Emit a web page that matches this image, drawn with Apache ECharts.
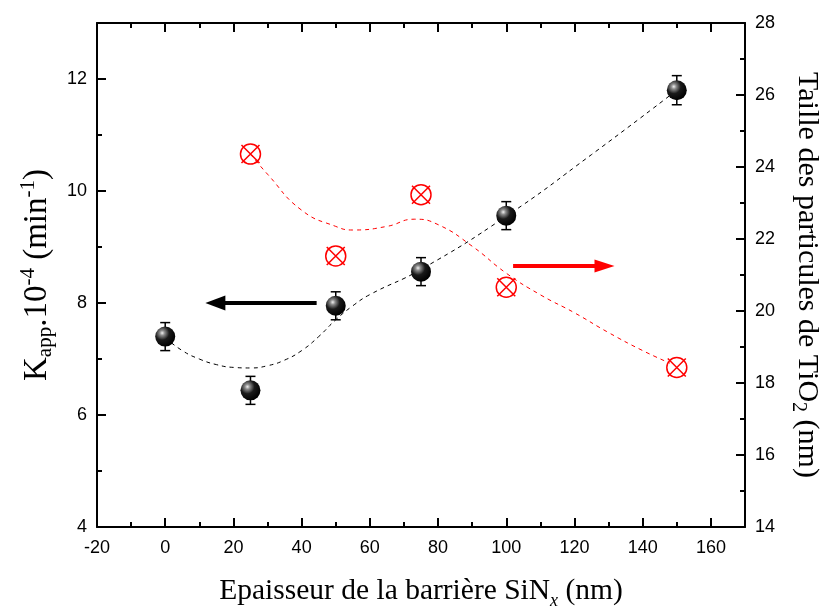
<!DOCTYPE html>
<html>
<head>
<meta charset="utf-8">
<script src="https://cdn.jsdelivr.net/npm/echarts@6/dist/echarts.min.js"></script>
<style>
  html, body { margin: 0; padding: 0; background: #fff; }
  #chart { width: 830px; height: 615px; }
</style>
</head>
<body>
<div id="chart"></div>
<script>
// measured points
var thickness = [0, 25, 50, 75, 100, 150];
var kapp = [7.40, 6.44, 7.95, 8.56, 9.56, 11.80];
var kappErr = [0.25, 0.25, 0.25, 0.25, 0.25, 0.26];
var sizeX = [25, 50, 75, 100, 150];
var particleSize = [24.36, 21.53, 23.23, 20.66, 18.43];

// dashed guide curves
var kappFitX = [0, 5, 10, 15, 20, 25, 30, 35, 40, 45, 50, 55, 60, 75, 100, 125, 150];
var kappFitY = [7.38, 7.15, 7.0, 6.9, 6.85, 6.84, 6.88, 6.98, 7.15, 7.4, 7.7, 7.95, 8.15, 8.6, 9.55, 10.65, 11.8];
var sizeFitX = [25, 30, 40, 50, 55, 65, 73, 80, 90, 100, 110, 120, 130, 140, 148];
var sizeFitY = [24.36, 23.8, 22.8, 22.35, 22.25, 22.35, 22.55, 22.4, 21.8, 21.05, 20.45, 19.95, 19.4, 18.9, 18.55];

// annotation arrows (data units)
var leftArrow = [[44.4, 8.0], [14.7, 8.0]];
var rightArrow = [[102, 21.25], [128.8, 21.25]];

var chart = echarts.init(document.getElementById('chart'));

var tickFont = { fontFamily: 'Liberation Sans', fontSize: 18, color: '#000' };
var serif = 'Liberation Serif';
function richSet(main, small) {
  return {
    t: { fontFamily: serif, fontSize: main, lineHeight: 38, color: '#000' },
    sub: { fontFamily: serif, fontSize: small, lineHeight: small, verticalAlign: 'bottom', color: '#000' },
    subi: { fontFamily: serif, fontSize: small, lineHeight: small - 4, verticalAlign: 'bottom', fontStyle: 'italic', color: '#000' },
    sup: { fontFamily: serif, fontSize: small, lineHeight: small, verticalAlign: 'top', color: '#000' }
  };
}

var axisLine = { onZero: false, lineStyle: { color: '#000', width: 2 } };
var tick = { inside: true, length: 9, lineStyle: { color: '#000', width: 2 } };
var minor = { show: true, splitNumber: 2, length: 5, lineStyle: { color: '#000', width: 2 } };

var sphere = {
  type: 'radial', x: 0.35, y: 0.32, r: 0.7,
  colorStops: [
    { offset: 0, color: '#f0f0f0' },
    { offset: 0.18, color: '#8a8a8a' },
    { offset: 0.5, color: '#1a1a1a' },
    { offset: 1, color: '#000' }
  ]
};

var crossCircle = 'path://M0,10 A10,10 0 0 1 20,10 A10,10 0 0 1 0,10 Z M1,1 L19,19 M19,1 L1,19';

var option = {
  animation: false,
  backgroundColor: '#fff',
  grid: { left: 97, right: 85, top: 23, bottom: 85 },
  xAxis: [{
    type: 'value', min: -20, max: 170, interval: 20, position: 'bottom',
    axisLine: axisLine, axisTick: tick, minorTick: minor, splitLine: { show: false },
    axisLabel: Object.assign({ margin: 12, showMaxLabel: false }, tickFont),
    name: '{t|Epaisseur de la barrière SiN}{subi|x}{t| (nm)}',
    nameLocation: 'middle', nameGap: 45,
    nameTextStyle: { rich: richSet(29.5, 18) }
  }, {
    type: 'value', min: -20, max: 170, interval: 20, position: 'top',
    axisLine: axisLine, axisTick: tick, minorTick: minor, splitLine: { show: false },
    axisLabel: { show: false }
  }],
  yAxis: [{
    type: 'value', min: 4, max: 13, interval: 2, position: 'left',
    axisLine: axisLine, axisTick: tick, minorTick: minor, splitLine: { show: false },
    axisLabel: Object.assign({ margin: 10, showMaxLabel: false }, tickFont),
    name: '{t|K}{sub|app}{t|.10}{sup|-4}{t| (min}{sup|-1}{t|)}',
    nameLocation: 'middle', nameGap: 40, nameRotate: 90,
    nameTextStyle: { rich: richSet(33, 21) }
  }, {
    type: 'value', min: 14, max: 28, interval: 2, position: 'right',
    axisLine: axisLine, axisTick: tick, minorTick: minor, splitLine: { show: false },
    axisLabel: Object.assign({ margin: 10 }, tickFont),
    name: '{t|Taille des particules de TiO}{sub|2}{t| (nm)}',
    nameLocation: 'middle', nameGap: 43, nameRotate: -90,
    nameTextStyle: { rich: richSet(30, 20) }
  }],
  series: [{
    type: 'line', xAxisIndex: 0, yAxisIndex: 0, smooth: 0.5, symbol: 'none', z: 2,
    data: kappFitX.map(function (x, i) { return [x, kappFitY[i]]; }),
    lineStyle: { color: '#000', width: 1, type: [4, 4] },
    markLine: {
      silent: true, symbol: ['none', 'triangle'], symbolSize: [15, 20],
      label: { show: false },
      lineStyle: { color: '#000', width: 4, type: 'solid' },
      data: [[{ coord: leftArrow[0] }, { coord: leftArrow[1] }]]
    }
  }, {
    type: 'line', xAxisIndex: 0, yAxisIndex: 1, smooth: 0.5, symbol: 'none', z: 2,
    data: sizeFitX.map(function (x, i) { return [x, sizeFitY[i]]; }),
    lineStyle: { color: '#f00', width: 1, type: [4, 4] },
    markLine: {
      silent: true, symbol: ['none', 'triangle'], symbolSize: [13, 20],
      label: { show: false },
      lineStyle: { color: '#f00', width: 4, type: 'solid' },
      data: [[{ coord: rightArrow[0] }, { coord: rightArrow[1] }]]
    }
  }, {
    type: 'custom', xAxisIndex: 0, yAxisIndex: 0, z: 3,
    data: thickness.map(function (x, i) { return [x, kapp[i], kappErr[i]]; }),
    renderItem: function (params, api) {
      var x = api.value(0), y = api.value(1), e = api.value(2);
      var hi = api.coord([x, y + e]), lo = api.coord([x, y - e]);
      var w = 5;
      var st = { stroke: '#000', lineWidth: 1.5 };
      return {
        type: 'group',
        children: [
          { type: 'line', shape: { x1: hi[0], y1: hi[1], x2: lo[0], y2: lo[1] }, style: st },
          { type: 'line', shape: { x1: hi[0] - w, y1: hi[1], x2: hi[0] + w, y2: hi[1] }, style: st },
          { type: 'line', shape: { x1: lo[0] - w, y1: lo[1], x2: lo[0] + w, y2: lo[1] }, style: st }
        ]
      };
    }
  }, {
    type: 'scatter', xAxisIndex: 0, yAxisIndex: 0, z: 4,
    data: thickness.map(function (x, i) { return [x, kapp[i]]; }),
    symbol: 'circle', symbolSize: 20,
    itemStyle: { color: sphere, opacity: 1 }
  }, {
    type: 'scatter', xAxisIndex: 0, yAxisIndex: 1, z: 4,
    data: sizeX.map(function (x, i) { return [x, particleSize[i]]; }),
    symbol: crossCircle, symbolSize: 20,
    itemStyle: { color: 'rgba(0,0,0,0)', borderColor: '#f00', borderWidth: 1.5, opacity: 1 }
  }]
};

chart.setOption(option);
</script>
</body>
</html>
